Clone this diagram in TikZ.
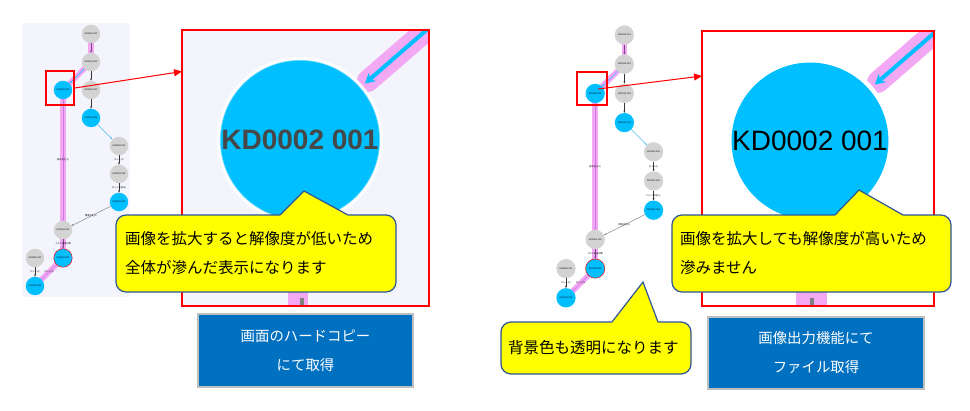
\documentclass[tikz,border=0pt]{standalone}
\usepackage{fontspec}
\setmainfont{Liberation Sans}
\newfontfamily\jp{Noto Sans CJK JP}
\usetikzlibrary{arrows.meta}
\definecolor{nodeblue}{RGB}{0,191,255}
\definecolor{nodegray}{RGB}{211,211,211}
\definecolor{lav}{RGB}{244,244,252}
\definecolor{pinkband}{RGB}{242,168,242}
\definecolor{bandline}{RGB}{205,120,225}
\definecolor{calloutyellow}{RGB}{255,255,0}
\definecolor{calloutborder}{RGB}{47,85,151}
\definecolor{boxblue}{RGB}{0,112,192}
\definecolor{boxgray}{RGB}{191,191,191}
\definecolor{edgedark}{RGB}{55,55,55}
\definecolor{edgeblue}{RGB}{70,190,240}
\tikzset{
  ed/.style={draw=edgedark, line width=0.45pt, -{Stealth[length=2.2pt,width=2pt]}},
  lbl/.style={font=\jp\fontsize{2.2}{2.4}\selectfont, inner sep=0.2pt, text=black},
  redsq/.style={draw=red, line width=1.5pt, inner sep=0pt},
  redarrow/.style={draw=red, line width=1pt, -{Triangle[length=8pt,width=7pt]}},
  bigbox/.style={draw=red, line width=1.5pt},
  calloutbox/.style={draw=calloutborder, line width=1.2pt, fill=calloutyellow, rounded corners=10pt, align=left, inner ysep=0pt, font=\jp\fontsize{15.5}{29}\selectfont},
  pointerline/.style={draw=calloutborder, line width=1.2pt, line join=miter},
  bluebox/.style={draw=boxgray, line width=1.5pt, fill=boxblue, text=white, align=center, font=\jp\fontsize{14.4}{29}\selectfont},
  bignode/.style={circle, fill=nodeblue, inner sep=0pt, minimum size=156pt},
}
\newcommand\kdgraph[4]{%
\begin{scope}[shift={(#2,#3)}, x=#4pt, y=-#4pt, name prefix=#1-,
  kd/.style={circle, inner sep=0pt, minimum size=0.66*#4pt, font=\fontsize{2.3}{2.5}\selectfont},
  band/.style={draw=pinkband, line width=0.19*#4pt, line cap=round}]
  \coordinate (pA1) at (2,0);
  \coordinate (pA2) at (2,1);
  \coordinate (pB1) at (1,2);
  \coordinate (pA3) at (2,2);
  \coordinate (pA4) at (2,3);
  \coordinate (pC1) at (3,4);
  \coordinate (pC2) at (3,5);
  \coordinate (pC3) at (3,6);
  \coordinate (pD1) at (1,7);
  \coordinate (pD2) at (1,8);
  \coordinate (pE1) at (0,8);
  \coordinate (pE2) at (0,9);
  \draw[band] (pA1) -- (pA2);
  \draw[band] (pA2) -- (pB1);
  \draw[band] (pB1) -- (pD1);
  \draw[band] (pD1) -- (pD2);
  \draw[band] (pD2) -- (pE2);
  \node[kd, fill=nodegray] (A1) at (pA1) {KD0001 001};
  \node[kd, fill=nodegray] (A2) at (pA2) {KD0001 002};
  \node[kd, fill=nodeblue] (B1) at (pB1) {KD0002 001};
  \node[kd, fill=nodegray] (A3) at (pA3) {KD0001 003};
  \node[kd, fill=nodeblue] (A4) at (pA4) {KD0001 004};
  \node[kd, fill=nodegray] (C1) at (pC1) {KD0003 001};
  \node[kd, fill=nodegray] (C2) at (pC2) {KD0003 002};
  \node[kd, fill=nodeblue] (C3) at (pC3) {KD0003 003};
  \node[kd, fill=nodegray] (D1) at (pD1) {KD0004 001};
  \node[kd, fill=nodeblue, draw=red, line width=0.5pt] (D2) at (pD2) {KD0004 002};
  \node[kd, fill=nodegray] (E1) at (pE1) {KD0005 001};
  \node[kd, fill=nodeblue] (E2) at (pE2) {KD0005 002};
  \draw[ed, draw=bandline!60!black] (A1) -- (A2);
  \draw[ed, draw=nodeblue] (A2) -- (B1);
  \draw[ed] (A2) -- (A3);
  \draw[ed] (A3) -- (A4);
  \draw[ed, draw=edgeblue] (A4) -- (C1);
  \draw[ed] (C1) -- node[lbl]{ロット(1)} (C2);
  \draw[ed] (C2) -- node[lbl]{ロット不良(A)} (C3);
  \draw[ed, draw=gray] (C3) -- node[lbl]{精度劣化(1)} (D1);
  \draw[ed, draw=bandline] (B1) -- node[lbl]{経年劣化(1)} (D1);
  \draw[ed, draw=bandline!60!black] (D1) -- node[lbl]{コスト低減対策} (D2);
  \draw[ed] (E1) -- node[lbl]{ロット(2)} (E2);
  \draw[ed, draw=bandline] (D2) -- node[lbl]{ロット(3)} (E2);
\end{scope}}
\begin{document}
\begin{tikzpicture}[x=1pt, y=-1pt]
\useasboundingbox (0,0) rectangle (970,410);
\fill[white] (0,0) rectangle (970,410);
% ---------- left: screen hard copy ----------
\fill[lav] (22,23) rectangle (130,297);
\kdgraph{L}{35}{34}{28}
\node[redsq, minimum width=28pt, minimum height=34pt] (LSQ) at (60,88) {};
% zoomed view (blurred)
\fill[lav] (182,30) rectangle (429,306);
\begin{scope}
  \clip (182,30) rectangle (429,306);
  \draw[draw=pinkband, line width=22pt, line cap=round] (367.9,81.0) -- (450.9,8.8);
  \fill[pinkband] (288,230) rectangle (308,310);
  \fill[gray] (300,298) rectangle (304,310);
  \fill[white, opacity=0.9] (300,140) circle (83pt);
  \fill[nodeblue!55!white] (300,140) circle (80pt);
  \node[bignode, font=\bfseries\fontsize{28}{30}\selectfont, text=black!72] (LBIG) at (300,140) {KD0002 001};
  \draw[nodeblue, line width=4pt, -{Stealth[length=10pt,width=11pt]}] (450.9,8.8) -- (364.9,83.5);
\end{scope}
\draw[bigbox] (182,30) rectangle (429,306);
\coordinate (LTIP) at (182,71.5);
\draw[redarrow] (LSQ.east) -- (LTIP);
% callout left
\node[calloutbox, minimum width=280pt, minimum height=77pt, text width=262pt] (LCALL) at (256,253.5) {画像を拡大すると解像度が低いため\\全体が滲んだ表示になります};
\fill[calloutyellow] (280,215) -- (304,191) -- (348,215) -- (348,216.3) -- (280,216.3) -- cycle;
\draw[pointerline] (280,215) -- (304,191) -- (348,215);
% blue box left
\node[bluebox, minimum width=215pt, minimum height=73pt] (LBOX) at (305.5,350.5) {画面のハードコピー\\にて取得};
% ---------- right: image output function ----------
\kdgraph{R}{566}{35}{29.2}
\node[redsq, minimum width=30pt, minimum height=33pt] (RSQ) at (592,88.5) {};
\fill[white] (702,31) rectangle (934,306);
\begin{scope}
  \clip (702,31) rectangle (934,306);
  \draw[draw=pinkband, line width=22pt, line cap=round] (877.9,82.0) -- (960.9,9.8);
  \fill[pinkband] (796,230) rectangle (827,310);
  \fill[gray] (810,298) rectangle (814,310);
  \fill[white] (810,141) circle (83pt);
  \node[bignode, font=\fontsize{28}{30}\selectfont, text=black] (RBIG) at (810,141) {KD0002 001};
  \draw[nodeblue, line width=4pt, -{Stealth[length=10pt,width=11pt]}] (960.9,9.8) -- (874.9,84.5);
\end{scope}
\draw[bigbox] (702,31) rectangle (934,306);
\coordinate (RSTART) at (598,89);
\coordinate (RTIP) at (702,76);
\draw[redarrow] (RSTART) -- (RTIP);
% callout right
\node[calloutbox, minimum width=279pt, minimum height=77pt, text width=263pt] (RCALL) at (811.5,253.5) {画像を拡大しても解像度が高いため\\滲みません};
\fill[calloutyellow] (835,215) -- (859,190) -- (903,215) -- (903,216.3) -- (835,216.3) -- cycle;
\draw[pointerline] (835,215) -- (859,190) -- (903,215);
% callout transparent background
\node[calloutbox, minimum width=190pt, minimum height=52pt, text width=176pt] (TCALL) at (596,348) {背景色も透明になります};
\fill[calloutyellow] (612,322) -- (643,282) -- (658,322) -- (658,323.3) -- (612,323.3) -- cycle;
\draw[pointerline] (612,322) -- (643,282) -- (658,322);
% blue box right
\node[bluebox, minimum width=216pt, minimum height=72pt] (RBOX) at (816,353) {画像出力機能にて\\ファイル取得};
\end{tikzpicture}
\end{document}
